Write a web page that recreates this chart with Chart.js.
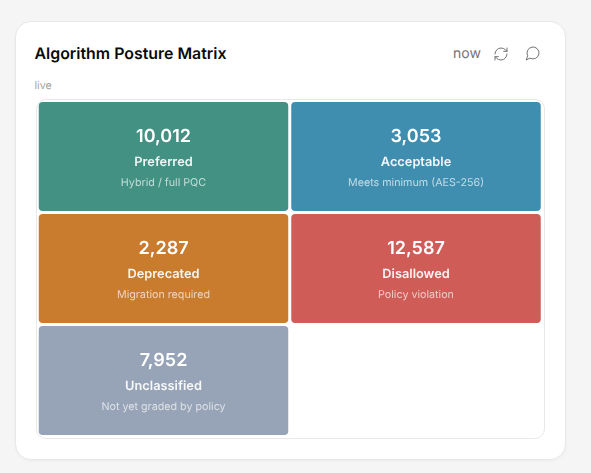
<!DOCTYPE html>
<html>
<head>
<meta charset="utf-8">
<script src="https://cdn.jsdelivr.net/npm/chart.js@4"></script>
<style>
html,body{margin:0;padding:0;width:591px;height:473px;overflow:hidden;background:#f5f5f5;font-family:Inter,sans-serif;text-rendering:geometricPrecision}
.card{position:absolute;left:14.5px;top:20.5px;width:551px;height:439px;box-sizing:border-box;background:#fff;border:1px solid #e8e8e8;border-radius:16px;box-shadow:0 1px 3px rgba(0,0,0,.04)}
.title{position:absolute;left:34.5px;top:43.5px;font-size:15.9px;line-height:20px;font-weight:600;color:#0a0a0a}
.now{position:absolute;left:453px;top:44px;font-size:14px;line-height:20px;color:#737373}
.sub{position:absolute;left:34.5px;top:78.5px;font-size:10.72px;line-height:14px;color:#a3a3a3}
.icon{position:absolute;width:16px;height:16px;fill:none;stroke:#737373;stroke-width:1.5;stroke-linecap:round;stroke-linejoin:round}
.frame{position:absolute;left:35.5px;top:98.5px;width:509px;height:340px;box-sizing:border-box;border:1px solid #e8e8e8;border-radius:10px}
.wrap{position:absolute;left:37px;top:100px;width:506px;height:337px}
canvas{display:block}
</style>
</head>
<body>
<div class="card"></div>
<div class="title">Algorithm Posture Matrix</div>
<div class="now">now</div>
<svg class="icon" style="left:493px;top:45.5px" viewBox="0 0 24 24"><path d="M3 12a9 9 0 0 1 9-9 9.75 9.75 0 0 1 6.74 2.74L21 8"/><path d="M21 3v5h-5"/><path d="M21 12a9 9 0 0 1-9 9 9.75 9.75 0 0 1-6.74-2.74L3 16"/><path d="M8 16H3v5"/></svg>
<svg class="icon" style="left:525px;top:45px" viewBox="0 0 24 24"><path d="M7.9 20A9 9 0 1 0 4 16.1L2 22Z"/></svg>
<div class="sub">live</div>
<div class="frame"></div>
<div class="wrap"><canvas id="c" width="506" height="337"></canvas></div>
<script>
const columns = ['left', 'right'];
const categories = ['Preferred', 'Acceptable', 'Deprecated', 'Disallowed', 'Unclassified'];
const counts = [10012, 3053, 2287, 12587, 7952];
const notes = ['Hybrid / full PQC', 'Meets minimum (AES-256)', 'Migration required', 'Policy violation', 'Not yet graded by policy'];
const cellColumn = ['left', 'right', 'left', 'right', 'left'];
const cellRow = [0, 0, 1, 1, 2];
const colors = ['#429183', '#3f8eaf', '#c97b2e', '#d05c58', '#97a3b6'];

const rowGap = 1.5 / 112;

const cellText = {
  id: 'cellText',
  afterDatasetsDraw(chart) {
    const ctx = chart.ctx;
    const bars = chart.getDatasetMeta(0).data;
    ctx.save();
    ctx.textAlign = 'center';
    ctx.textBaseline = 'middle';
    ctx.textRendering = 'geometricPrecision';
    ctx.fontKerning = 'normal';
    bars.forEach((bar, i) => {
      const x = bar.x, y = (bar.y + bar.base) / 2;
      ctx.fillStyle = '#ffffff';
      ctx.font = '600 18px Inter';
      ctx.fillText(counts[i].toLocaleString('en-US'), x, y - 20);
      ctx.fillStyle = 'rgba(255,255,255,0.92)';
      ctx.font = '600 12.8px Inter';
      ctx.fillText(categories[i], x, y + 5.5);
      ctx.fillStyle = 'rgba(255,255,255,0.68)';
      ctx.font = '400 10.72px Inter';
      ctx.fillText(notes[i], x, y + 26);
    });
    ctx.restore();
  }
};

new Chart(document.getElementById('c'), {
  type: 'bar',
  data: {
    labels: columns,
    datasets: [{
      data: categories.map((_, i) => ({ x: cellColumn[i], y: [cellRow[i] + rowGap, cellRow[i] + 1 - rowGap] })),
      backgroundColor: colors,
      borderWidth: 0,
      borderRadius: 4,
      borderSkipped: false,
      barPercentage: 249.5 / 252.5,
      categoryPercentage: 1
    }]
  },
  options: {
    responsive: false,
    animation: false,
    devicePixelRatio: 1,
    layout: { padding: { left: 0.25, top: 0.5, right: 0.75, bottom: 0.5 } },
    plugins: { legend: { display: false }, tooltip: { enabled: false } },
    scales: {
      x: { type: 'category', display: false },
      y: { type: 'linear', display: false, min: 0, max: 3, reverse: true }
    }
  },
  plugins: [cellText]
});
</script>
</body>
</html>
